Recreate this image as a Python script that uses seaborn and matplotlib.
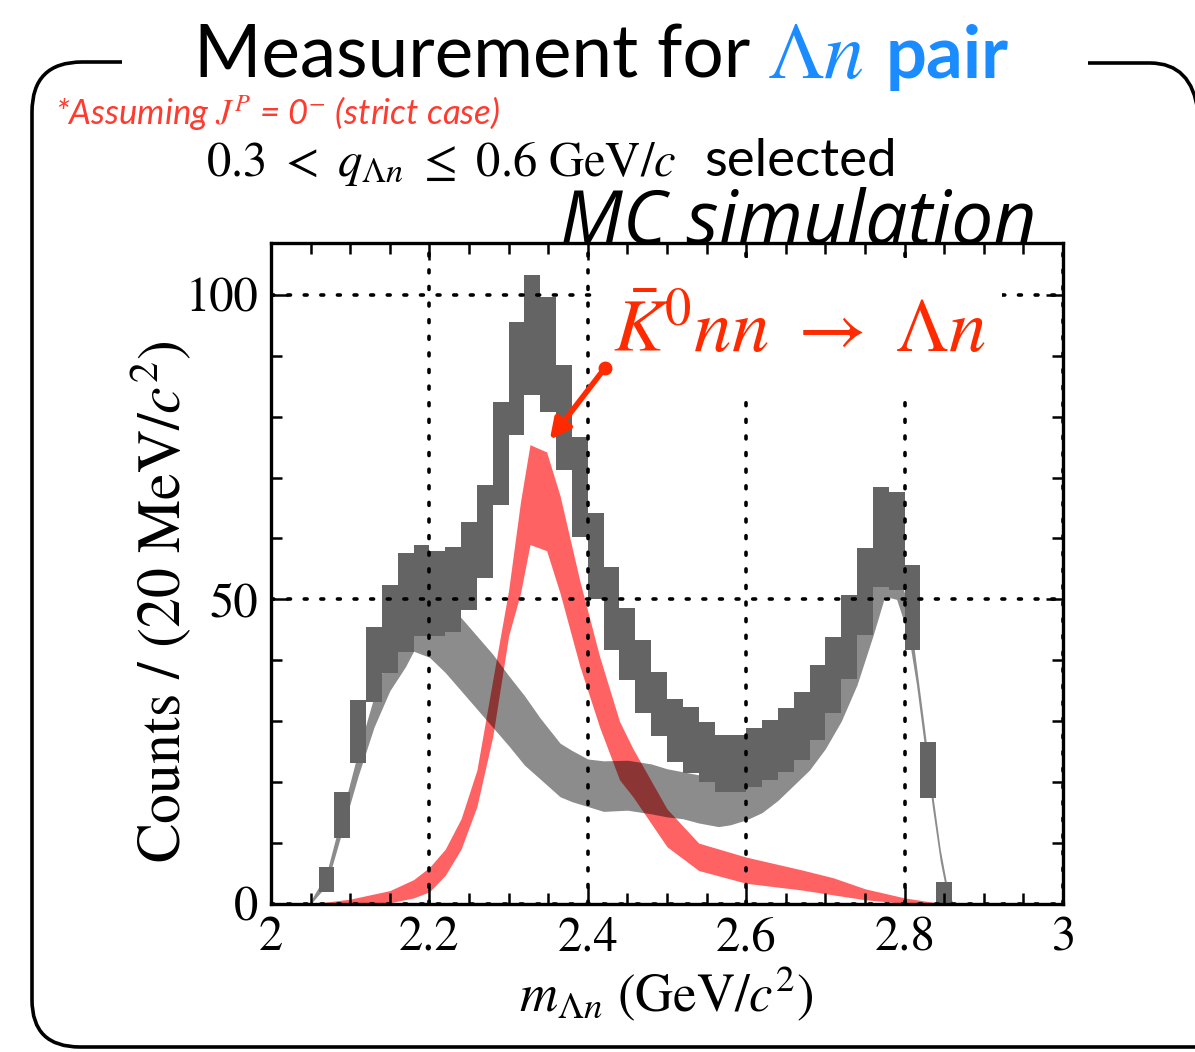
import numpy as np
import matplotlib
matplotlib.use('Agg')
import matplotlib.pyplot as plt
import seaborn as sns
from matplotlib.path import Path
from matplotlib.patches import PathPatch, Rectangle
from matplotlib.ticker import MultipleLocator, FuncFormatter

# MC total: 20 MeV bins, drawn as error boxes (lower / upper edge)
bin_centers = [2.07, 2.09, 2.11, 2.13, 2.15, 2.17, 2.19, 2.21, 2.23, 2.25,
               2.27, 2.29, 2.31, 2.33, 2.35, 2.37, 2.39, 2.41, 2.43, 2.45,
               2.47, 2.49, 2.51, 2.53, 2.55, 2.57, 2.59, 2.61, 2.63, 2.65,
               2.67, 2.69, 2.71, 2.73, 2.75, 2.77, 2.79, 2.81, 2.83, 2.85]
total_lo = [2.0, 10.8, 23.2, 33.2, 37.9, 41.4, 44.0, 44.0, 44.7, 48.3,
            53.5, 65.5, 77.0, 83.6, 80.8, 71.3, 60.3, 50.0, 41.7, 36.8,
            31.4, 27.5, 23.3, 21.5, 20.0, 18.4, 18.4, 19.2, 20.4, 21.7,
            23.6, 26.9, 31.4, 37.0, 44.2, 52.0, 51.6, 41.7, 17.4, 0.2]
total_hi = [6.1, 18.4, 33.5, 45.5, 52.4, 57.6, 59.0, 58.0, 58.6, 62.7,
            68.8, 82.4, 95.6, 103.3, 99.7, 88.5, 76.7, 64.2, 55.3, 48.6,
            43.3, 38.0, 33.6, 32.3, 29.9, 27.7, 27.7, 28.9, 30.2, 32.2,
            34.8, 39.2, 43.8, 50.7, 58.5, 68.5, 67.7, 55.7, 26.6, 3.6]

# other contributions (grey band)
bg_mass = [2.05, 2.07, 2.09, 2.11, 2.13, 2.15, 2.17, 2.18, 2.20, 2.22,
           2.24, 2.26, 2.28, 2.30, 2.32, 2.34, 2.365, 2.38, 2.40, 2.42,
           2.45, 2.48, 2.50, 2.52, 2.54, 2.565, 2.58, 2.60, 2.62, 2.64,
           2.66, 2.68, 2.70, 2.72, 2.74, 2.76, 2.775, 2.79, 2.805, 2.815,
           2.825, 2.835, 2.845, 2.855, 2.86]
bg_lo = [0.0, 3.0, 12.0, 21.0, 29.0, 35.0, 39.0, 41.5, 40.5, 38.0,
         35.0, 32.0, 29.0, 26.0, 22.8, 20.5, 17.6, 16.8, 16.0, 15.2,
         15.4, 14.8, 14.3, 14.0, 13.3, 12.7, 13.0, 13.8, 15.0, 17.0,
         19.5, 22.0, 25.5, 30.0, 36.0, 44.0, 50.5, 50.0, 44.0, 36.0,
         26.0, 16.0, 7.0, 0.5, 0.0]
bg_hi = [0.5, 5.0, 15.0, 25.0, 34.0, 42.0, 47.0, 49.0, 50.0, 49.0,
         47.0, 44.0, 41.0, 37.5, 34.2, 30.5, 26.4, 25.2, 23.8, 23.5,
         23.6, 23.0, 22.2, 21.7, 21.2, 21.0, 21.5, 22.5, 24.5, 27.0,
         30.0, 33.5, 38.0, 43.0, 49.0, 55.0, 57.0, 55.0, 49.0, 39.0,
         29.0, 18.5, 9.0, 2.0, 0.5]

# K0bar nn -> Lambda n (red band)
sig_mass = [2.05, 2.10, 2.15, 2.18, 2.20, 2.22, 2.24, 2.26, 2.28, 2.30,
            2.315, 2.327, 2.348, 2.365, 2.39, 2.415, 2.44, 2.457, 2.50, 2.54,
            2.60, 2.67, 2.71, 2.75, 2.80, 2.85]
sig_lo = [0.0, 0.0, 0.2, 1.0, 2.0, 4.7, 9.0, 16.0, 27.5, 44.0,
          51.0, 59.0, 58.0, 51.0, 39.0, 29.0, 20.4, 17.6, 9.4, 5.5,
          3.4, 2.3, 1.5, 0.7, 0.1, 0.0]
sig_hi = [0.0, 0.8, 2.2, 4.0, 6.0, 9.0, 14.0, 22.0, 36.8, 51.5,
          66.0, 75.4, 74.2, 67.0, 53.0, 40.6, 30.0, 25.5, 15.6, 10.0,
          7.7, 5.6, 4.3, 2.5, 1.0, 0.0]

x_ticks = [2, 2.2, 2.4, 2.6, 2.8, 3]
y_ticks = [0, 50, 100]

# annotation arrow (data coords): tail, head
arrow_tail = (2.4217, 88.0)
arrow_head = (2.352, 76.2)

RED = '#ff2a00'
BLUE = '#1a8cff'

sns.set_theme(style='ticks')
plt.rcParams['mathtext.fontset'] = 'stix'
plt.rcParams['font.family'] = ['STIXGeneral', 'DejaVu Sans']

W, H = 1195, 1052
fig = plt.figure(figsize=(W / 100, H / 100), dpi=100)
fig.patch.set_facecolor('white')


def fp(x, y):
    """figure fraction from pixel (origin top-left)"""
    return x / W, 1 - y / H


ax = fig.add_axes([271 / W, 1 - 904 / H, 792 / W, 661 / H])
ax.set_facecolor('white')

ax.fill_between(sig_mass, sig_lo, sig_hi, color='#ff6262', lw=0, zorder=1)
ax.fill_between(bg_mass, bg_lo, bg_hi, color='black', alpha=0.45, lw=0, zorder=1.2)
lo = np.array(total_lo)
hi = np.array(total_hi)
ax.bar(bin_centers, hi - lo, bottom=lo, width=0.02, color='#646464',
       lw=0, zorder=1.5)

ax.set_xlim(2, 3)
ax.set_ylim(0, 108.5)
ax.xaxis.set_major_locator(MultipleLocator(0.2))
ax.xaxis.set_minor_locator(MultipleLocator(0.05))
ax.yaxis.set_major_locator(MultipleLocator(50))
ax.yaxis.set_minor_locator(MultipleLocator(10))
ax.set_xticks(x_ticks)
ax.set_yticks(y_ticks)
ax.xaxis.set_major_formatter(FuncFormatter(lambda v, p: f'{v:g}'))
ax.set_axisbelow(False)
ax.grid(True, which='major', color='black', linestyle=(0, (0.8, 3.8)),
        linewidth=2.6, dash_capstyle='round')
ax.tick_params(which='both', direction='in', top=True, right=True,
               width=1.8, color='black', labelsize=35, labelcolor='black')
ax.tick_params(which='major', length=12, pad=9)
ax.tick_params(which='minor', length=8)
for s in ax.spines.values():
    s.set_linewidth(2.4)
    s.set_color('black')

ax.set_ylabel('Counts / (20 MeV/$c^2$)', fontsize=43, color='black')
ax.yaxis.set_label_coords(-0.098, 0.458)
ax.set_xlabel(r'$m_{\Lambda n}$ (GeV/$c^2$)', fontsize=38, color='black')
ax.xaxis.set_label_coords(0.499, -0.093)
ax.xaxis.label.set_va('top')

# white patch behind the red label (hides grid there)
ax.add_patch(Rectangle((0.415, 0.775), 0.508, 0.202, transform=ax.transAxes,
                       facecolor='white', edgecolor='none', zorder=2.6))
ax.text(2.432, 90.6, r'$\bar{K}^0nn\ \rightarrow\ \Lambda n$', color=RED,
        fontsize=54, zorder=3)
ax.annotate('', xy=arrow_head, xytext=arrow_tail,
            arrowprops=dict(arrowstyle='-|>,head_length=1.0,head_width=0.5',
                            color=RED, lw=4.0, shrinkA=0, shrinkB=0), zorder=3)
ax.plot([arrow_tail[0]], [arrow_tail[1]], 'o', ms=9, color=RED, zorder=3)

# header texts
fig.text(*fp(194, 78), 'Measurement for', fontsize=52.5, family='Lato', color='black')
fig.text(*fp(767, 78), r'$\Lambda n$', fontsize=58, color=BLUE)
fig.text(*fp(886, 78), 'pair', fontsize=52, family='Lato', weight='bold', color=BLUE)
fig.text(*fp(55, 125), r'*Assuming $J^P$ = 0$^{-}$ (strict case)', fontsize=25,
         family='Lato', style='italic', color='#ff3b30')
fig.text(*fp(206, 176), r'$0.3\ <\ q_{\Lambda n}\ \leq\ 0.6\ \mathrm{GeV}/c$',
         fontsize=35, color='black')
fig.text(*fp(704, 176), 'selected', fontsize=38, family='Lato', color='black')
fig.text(*fp(560, 243), 'MC simulation', fontsize=54, family='Open Sans',
         style='italic', color='black', zorder=5)

# rounded bracket frame
def frame_path(pts, codes):
    verts = [fp(x, y) for x, y in pts]
    return PathPatch(Path(verts, codes), transform=fig.transFigure,
                     facecolor='none', edgecolor='black', lw=2.6)

left_pts = [(122, 62), (82, 62), (32, 62), (32, 112), (32, 1000),
            (32, 1047), (80, 1047), (1200, 1047)]
left_codes = [Path.MOVETO, Path.LINETO, Path.CURVE3, Path.CURVE3, Path.LINETO,
              Path.CURVE3, Path.CURVE3, Path.LINETO]
fig.add_artist(frame_path(left_pts, left_codes))
right_pts = [(1088, 63), (1150, 63), (1192, 63), (1198, 112)]
right_codes = [Path.MOVETO, Path.LINETO, Path.CURVE3, Path.CURVE3]
fig.add_artist(frame_path(right_pts, right_codes))

fig.savefig('out.png', dpi=100, facecolor='white')
